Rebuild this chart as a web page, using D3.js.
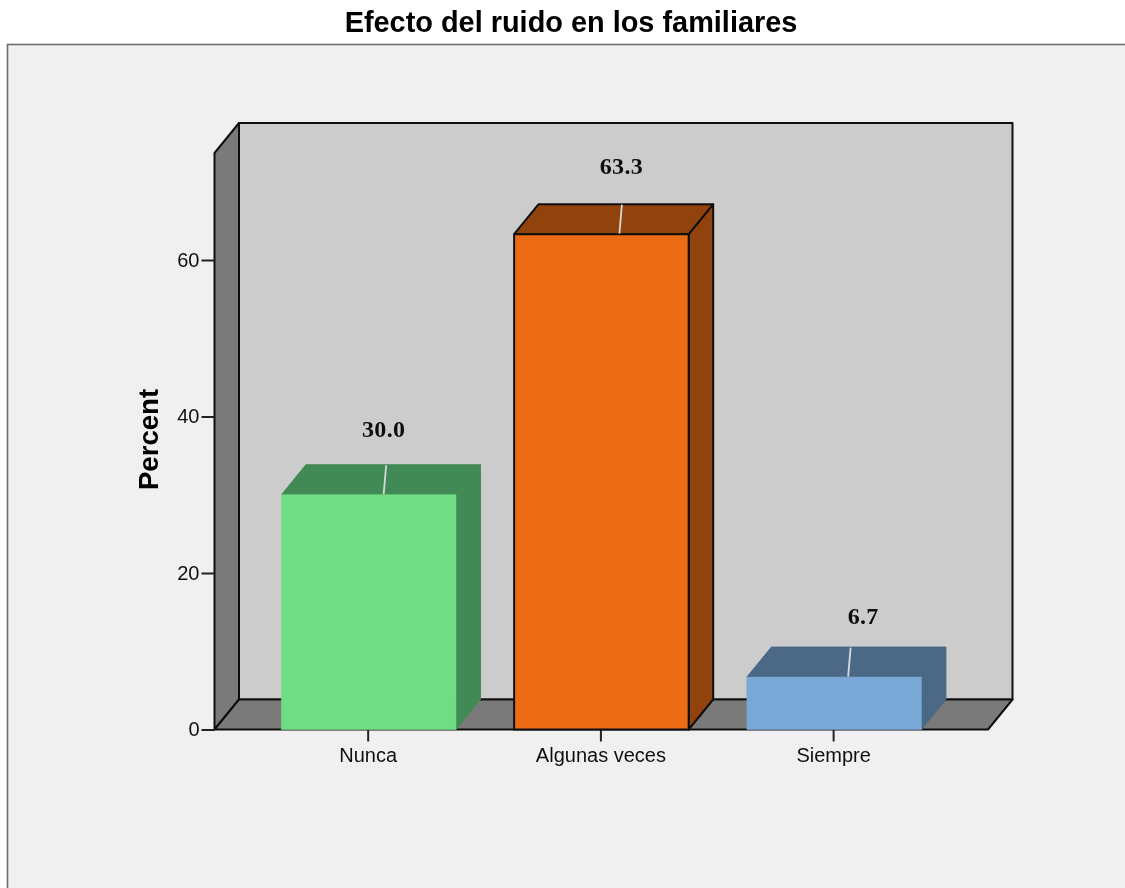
<!DOCTYPE html>
<html><head><meta charset="utf-8">
<script src="https://cdn.jsdelivr.net/npm/d3@7/dist/d3.min.js"></script>
<style>html,body{margin:0;padding:0;background:#fff}svg{display:block}</style>
</head><body><svg id="c" width="1125" height="888"></svg>
<script>
const chartTitle = "Efecto del ruido en los familiares";
const yAxisTitle = "Percent";
const categories = ["Nunca", "Algunas veces", "Siempre"];
const percentValues = [30.0, 63.3, 6.7];
const valueLabels = ["30.0", "63.3", "6.7"];
const yTicks = [0, 20, 40, 60];
const frontColors = ["#70dd85", "#ec6c18", "#7aa8d6"];
const shadeColors = ["#438a54", "#91420f", "#4b6986"];
const edgeColors = ["#70dd85", "#000000", "#7aa8d6"];

const svg = d3.select("#c");
svg.append("defs").append("filter").attr("id", "soft").attr("x", 0).attr("y", 0).attr("width", 1).attr("height", 1)
  .append("feGaussianBlur").attr("stdDeviation", 0.45);
const root = svg.append("g").attr("filter", "url(#soft)");
root.append("rect").attr("width", 1125).attr("height", 888).attr("fill", "#fff");

const y = d3.scaleLinear().domain([0, 60]).range([729.5, 260]);
const x = d3.scaleBand().domain(categories).range([281.4, 921.4]).paddingInner(0.25).paddingOuter(0);
const DX = 24.5, DY = -30;
const wall = {l: 214.5, r: 988, b: y(0), t: 153};
const sans = "'Liberation Sans', Arial, sans-serif";
const serif = "'Liberation Serif', 'Times New Roman', serif";
const poly = pts => "M" + pts.map(p => p.join(",")).join("L") + "Z";

// page and panel
root.append("rect").attr("x", 7.5).attr("y", 44.5).attr("width", 1140).attr("height", 900)
  .attr("fill", "#f0f0f0").attr("stroke", "#6e6e6e").attr("stroke-width", 1.6);
root.append("text").attr("x", 571).attr("y", 32).attr("text-anchor", "middle")
  .attr("font-family", sans).attr("font-weight", 700).attr("font-size", 28.9).attr("fill", "#000").text(chartTitle);

// 3D walls
const W = {stroke: "#111", "stroke-width": 2, "stroke-linejoin": "round"};
const face = (pts, fill, st = W) => {
  const p = root.append("path").attr("d", poly(pts)).attr("fill", fill);
  Object.entries(st).forEach(([k, v]) => p.attr(k, v));
  return p;
};
face([[wall.l + DX, wall.t + DY], [wall.r + DX, wall.t + DY], [wall.r + DX, wall.b + DY], [wall.l + DX, wall.b + DY]], "#cccccc");
face([[wall.l, wall.t], [wall.l + DX, wall.t + DY], [wall.l + DX, wall.b + DY], [wall.l, wall.b]], "#7a7a7a");
face([[wall.l, wall.b], [wall.l + DX, wall.b + DY], [wall.r + DX, wall.b + DY], [wall.r, wall.b]], "#7a7a7a");

// y axis
const yAxis = d3.axisLeft(y).tickValues(yTicks).tickSize(13).tickPadding(2).tickFormat(d3.format("d"));
const gy = root.append("g").attr("transform", `translate(${wall.l},0)`).call(yAxis);
gy.select(".domain").remove();
gy.selectAll("line").attr("stroke", "#222").attr("stroke-width", 2);
gy.selectAll("text").attr("font-family", sans).attr("font-size", 20).attr("fill", "#111");

root.append("text").attr("transform", "translate(158,439.5) rotate(-90)").attr("text-anchor", "middle")
  .attr("font-family", sans).attr("font-weight", 700).attr("font-size", 27.6).attr("fill", "#000").text(yAxisTitle);

// x axis
const xAxis = d3.axisBottom(x).tickSize(12).tickPadding(6);
const gx = root.append("g").attr("transform", `translate(-0.5,${y(0)})`).call(xAxis);
gx.select(".domain").remove();
gx.selectAll("line").attr("stroke", "#222").attr("stroke-width", 2);
gx.selectAll("text").attr("font-family", sans).attr("font-size", 20).attr("fill", "#111");

// bars
const leaderShift = [15, 18, 14];
const labelShift = [[15, 66], [20, 68], [29, 61.5]];
categories.forEach((c, i) => {
  const x0 = x(c), x1 = x0 + x.bandwidth(), yt = y(percentValues[i]), yb = y(0);
  const outlined = edgeColors[i] === "#000000";
  const st = {stroke: outlined ? "#111" : shadeColors[i], "stroke-width": outlined ? 2 : 1, "stroke-linejoin": "round"};
  const stFront = {stroke: outlined ? "#111" : frontColors[i], "stroke-width": outlined ? 2 : 0.6};
  face([[x1, yb], [x1 + DX, yb + DY], [x1 + DX, yt + DY], [x1, yt]], shadeColors[i], st);
  face([[x0, yt], [x0 + DX, yt + DY], [x1 + DX, yt + DY], [x1, yt]], shadeColors[i], st);
  face([[x0, yt], [x1, yt], [x1, yb], [x0, yb]], frontColors[i], stFront);
  const mid = (x0 + x1) / 2 + leaderShift[i];
  root.append("line").attr("x1", mid).attr("y1", yt - 0.5).attr("x2", mid + 2.5).attr("y2", yt + DY + 0.5)
    .attr("stroke", "#d8d8d8").attr("stroke-width", 1.8);
  root.append("text").attr("x", (x0 + x1) / 2 + labelShift[i][0]).attr("y", yt - labelShift[i][1] + 8)
    .attr("text-anchor", "middle").attr("font-family", serif).attr("font-weight", 700)
    .attr("font-size", 24).attr("letter-spacing", 0.3).attr("fill", "#111").text(valueLabels[i]);
});
</script></body></html>
